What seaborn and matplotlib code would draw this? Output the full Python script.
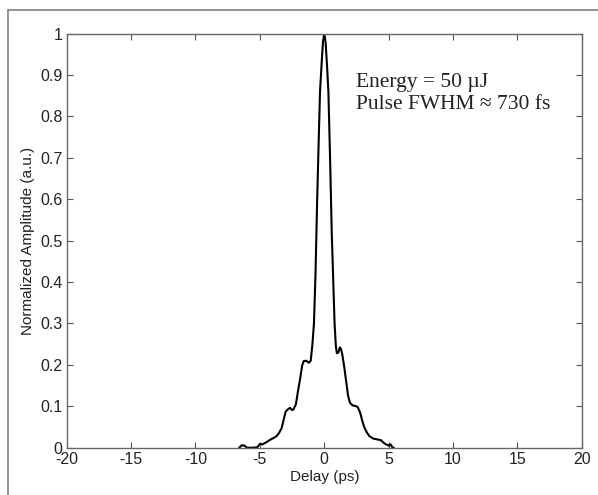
import numpy as np
import pandas as pd
import seaborn as sns
import matplotlib.pyplot as plt
from matplotlib.lines import Line2D

# autocorrelation trace
delay = [-6.6, -6.4, -6.2, -6.0, -5.5, -5.2, -5.0, -4.8, -4.5, -4.2, -3.9, -3.7,
         -3.5, -3.3, -3.15, -3.0, -2.85, -2.66, -2.5, -2.4, -2.2, -2.05, -1.88,
         -1.72, -1.6, -1.4, -1.2, -1.05, -0.92, -0.8, -0.68, -0.55, -0.45, -0.33,
         -0.2, -0.1, 0.0, 0.1, 0.2, 0.32, 0.45, 0.58, 0.7, 0.8, 0.9, 0.98, 1.1,
         1.2, 1.3, 1.4, 1.55, 1.7, 1.85, 2.0, 2.2, 2.4, 2.6, 2.8, 2.95, 3.1, 3.3,
         3.5, 3.8, 4.1, 4.4, 4.6, 4.8, 5.0, 5.15, 5.3, 5.4]
amplitude = [0.0, 0.006, 0.005, 0.0, 0.0, 0.001, 0.009, 0.008, 0.013, 0.019, 0.024,
             0.028, 0.036, 0.048, 0.068, 0.087, 0.092, 0.096, 0.091, 0.092, 0.105,
             0.135, 0.165, 0.198, 0.209, 0.210, 0.205, 0.210, 0.25, 0.30, 0.42,
             0.60, 0.72, 0.86, 0.93, 0.98, 1.0, 0.98, 0.93, 0.86, 0.70, 0.52, 0.40,
             0.30, 0.245, 0.228, 0.23, 0.242, 0.238, 0.225, 0.195, 0.16, 0.125,
             0.108, 0.102, 0.101, 0.098, 0.083, 0.065, 0.050, 0.037, 0.028, 0.022,
             0.020, 0.018, 0.012, 0.008, 0.005, 0.008, 0.0, 0.0]

xticks = [-20, -15, -10, -5, 0, 5, 10, 15, 20]
yticks = [0, 0.1, 0.2, 0.3, 0.4, 0.5, 0.6, 0.7, 0.8, 0.9, 1]
ytick_labels = ["0", "0.1", "0.2", "0.3", "0.4", "0.5", "0.6", "0.7", "0.8", "0.9", "1"]

df = pd.DataFrame({"Delay": delay, "Amplitude": amplitude})

sns.set_style("ticks")
plt.rcParams["font.family"] = ["Liberation Sans", "DejaVu Sans"]
plt.rcParams["axes.unicode_minus"] = False

fig = plt.figure(figsize=(5.98, 4.95), dpi=100)
ax = fig.add_axes([0.1115, 0.0956, 0.8615, 0.8367])

sns.lineplot(data=df, x="Delay", y="Amplitude", color="black", linewidth=1.5, ax=ax)

ax.set_xlim(-20, 20)
ax.set_ylim(0, 1)
ax.set_xticks(xticks)
ax.set_xticklabels([str(t) for t in xticks])
ax.set_yticks(yticks)
ax.set_yticklabels(ytick_labels)
ax.tick_params(direction="in", length=4, width=0.8, colors="#555555",
               labelcolor="#222222", labelsize=11.5, top=True, right=True, pad=3)
for sp in ax.spines.values():
    sp.set_visible(True)
    sp.set_color("#666666")
    sp.set_linewidth(1.0)

ax.set_xlabel("Delay (ps)", fontsize=11, color="#222222", labelpad=2)
ax.set_ylabel("Normalized Amplitude (a.u.)", fontsize=11, color="#222222", labelpad=4)

ax.text(0.562, 0.905, "Energy = 50 \u00b5J\nPulse FWHM \u2248 730 fs",
        transform=ax.transAxes, ha="left", va="top", fontsize=15.5,
        family=["Liberation Serif", "DejaVu Serif"], color="#222222", linespacing=1.25)

# partial gray frame around the figure (top and left edges of the original)
fig.add_artist(Line2D([8 / 598, 1.0], [1 - 10 / 495, 1 - 10 / 495],
                      transform=fig.transFigure, color="#808080", linewidth=1.2))
fig.add_artist(Line2D([8 / 598, 8 / 598], [0.0, 1 - 10 / 495],
                      transform=fig.transFigure, color="#808080", linewidth=1.2))

fig.savefig("out.png", dpi=100)
